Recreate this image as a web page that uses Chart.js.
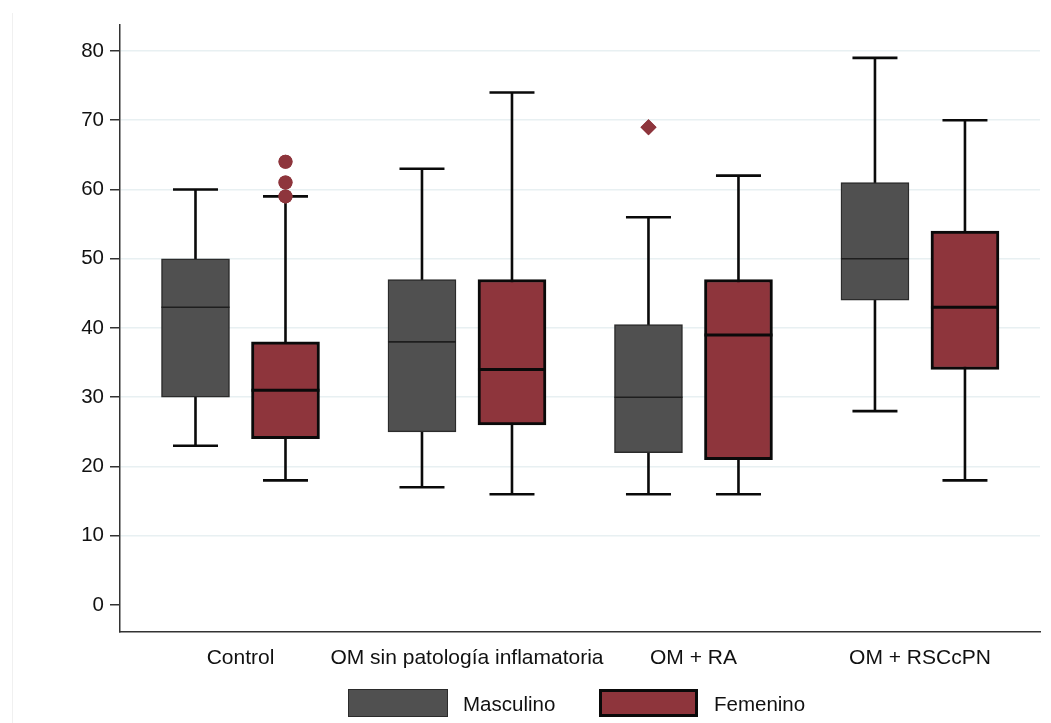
<!DOCTYPE html>
<html lang="es">
<head>
<meta charset="utf-8">
<title>Edad por grupo y sexo</title>
<script src="https://cdn.jsdelivr.net/npm/chart.js@4.4.1/dist/chart.umd.min.js"></script>
<style>
  html, body { margin: 0; padding: 0; background: #ffffff; }
  #wrap { position: relative; width: 1051px; height: 723px; overflow: hidden; }
  #edge { position: absolute; left: 12px; top: 13px; width: 1px; height: 710px; background: #f0f0f0; }
  canvas { position: absolute; left: 0; top: 0; }
  .key { position: absolute; top: 689px; height: 28px; box-sizing: border-box; }
  .key-label { position: absolute; top: 689px; height: 28px; line-height: 30px;
               font-family: "Liberation Sans", Arial, sans-serif; font-size: 20.5px; color: #111; }
</style>
</head>
<body>
<div id="wrap">
  <div id="edge"></div>
  <canvas id="chart" width="1051" height="723"></canvas>
  <div class="key" style="left:348px; width:100px; background:#505050; border:1.5px solid #2b2b2b;"></div>
  <div class="key-label" style="left:463px;">Masculino</div>
  <div class="key" style="left:599px; width:99px; background:#8e353c; border:3px solid #0a0a0a;"></div>
  <div class="key-label" style="left:714px;">Femenino</div>
</div>
<script>
// Groups on the horizontal axis
const categories = ['Control', 'OM sin patología inflamatoria', 'OM + RA', 'OM + RSCcPN'];

// Masculino: five-number summaries per group
const mascMin = [23, 17, 16, 28];
const mascQ1  = [30, 25, 22, 44];
const mascMed = [43, 38, 30, 50];
const mascQ3  = [50, 47, 40.5, 61];
const mascMax = [60, 63, 56, 79];

// Femenino: five-number summaries per group
const femMin = [18, 16, 16, 18];
const femQ1  = [24, 26, 21, 34];
const femMed = [31, 34, 39, 43];
const femQ3  = [38, 47, 47, 54];
const femMax = [59, 74, 62, 70];

// Outlying observations
const controlFemOutliers = [64, 61, 59];   // Control, Femenino (circles)
const raMascOutliers = [69];               // OM + RA, Masculino position (diamond)

// Y axis tick values
const yTicks = [0, 10, 20, 30, 40, 50, 60, 70, 80];

const MASC_FILL = '#505050';
const FEM_FILL = '#8e353c';
const FONT = '"Liberation Sans", Arial, sans-serif';

const series = [
  { min: mascMin, med: mascMed, max: mascMax, medWidth: 1.6, medColor: '#1e1e1e' },
  { min: femMin,  med: femMed,  max: femMax,  medWidth: 3,   medColor: '#0a0a0a' }
];

// Whiskers behind the boxes, medians and outliers on top
const boxPlotParts = {
  id: 'boxPlotParts',
  beforeDatasetsDraw(chart) {
    const ctx = chart.ctx;
    const y = chart.scales.y;
    ctx.save();
    ctx.strokeStyle = '#0a0a0a';
    ctx.lineWidth = 2.6;
    ctx.lineCap = 'butt';
    series.forEach((s, di) => {
      const meta = chart.getDatasetMeta(di);
      meta.data.forEach((bar, i) => {
        const x = bar.x;
        const yMin = y.getPixelForValue(s.min[i]);
        const yMax = y.getPixelForValue(s.max[i]);
        ctx.beginPath();
        ctx.moveTo(x, yMin); ctx.lineTo(x, yMax);
        ctx.moveTo(x - 22.5, yMin); ctx.lineTo(x + 22.5, yMin);
        ctx.moveTo(x - 22.5, yMax); ctx.lineTo(x + 22.5, yMax);
        ctx.stroke();
      });
    });
    ctx.restore();
  },
  afterDatasetsDraw(chart) {
    const ctx = chart.ctx;
    const y = chart.scales.y;
    ctx.save();
    series.forEach((s, di) => {
      const meta = chart.getDatasetMeta(di);
      meta.data.forEach((bar, i) => {
        const half = bar.width / 2;
        const ym = y.getPixelForValue(s.med[i]);
        ctx.strokeStyle = s.medColor;
        ctx.lineWidth = s.medWidth;
        ctx.beginPath();
        ctx.moveTo(bar.x - half, ym); ctx.lineTo(bar.x + half, ym);
        ctx.stroke();
      });
    });
    ctx.fillStyle = FEM_FILL;
    ctx.strokeStyle = FEM_FILL;
    const femBar = chart.getDatasetMeta(1).data[0];
    controlFemOutliers.forEach(v => {
      Chart.helpers.drawPoint(ctx, { pointStyle: 'circle', radius: 7, rotation: 0, borderWidth: 0 },
        femBar.x, y.getPixelForValue(v));
      ctx.fill();
    });
    const mascBar = chart.getDatasetMeta(0).data[2];
    raMascOutliers.forEach(v => {
      Chart.helpers.drawPoint(ctx, { pointStyle: 'rectRot', radius: 8, rotation: 0, borderWidth: 0 },
        mascBar.x, y.getPixelForValue(v));
      ctx.fill();
    });
    ctx.restore();
  }
};

new Chart(document.getElementById('chart'), {
  type: 'bar',
  data: {
    datasets: [
      {
        label: 'Masculino',
        data: categories.map((c, i) => ({ x: i + 1, y: [mascQ1[i], mascQ3[i]] })),
        backgroundColor: MASC_FILL,
        borderColor: '#2b2b2b',
        borderWidth: 1.5,
        borderSkipped: false,
        barThickness: 90,
        maxBarThickness: 68
      },
      {
        label: 'Femenino',
        data: categories.map((c, i) => ({ x: i + 1, y: [femQ1[i], femQ3[i]] })),
        backgroundColor: FEM_FILL,
        borderColor: '#0a0a0a',
        borderWidth: 3,
        borderSkipped: false,
        barThickness: 90,
        maxBarThickness: 68
      }
    ]
  },
  options: {
    responsive: false,
    animation: false,
    devicePixelRatio: 1,
    layout: { padding: { left: 0, right: 11, top: 25, bottom: 0 } },
    plugins: { legend: { display: false }, tooltip: { enabled: false } },
    scales: {
      x: {
        type: 'linear',
        offset: false,
        min: 0.468,
        max: 4.53,
        afterBuildTicks: s => { s.ticks = categories.map((c, i) => ({ value: i + 1 })); },
        afterFit: s => { s.height = 91; },
        grid: { display: false, drawTicks: false },
        border: { display: true, color: '#333333', width: 1.5 },
        ticks: {
          autoSkip: false,
          maxRotation: 0,
          padding: 14,
          color: '#111111',
          font: { family: FONT, size: 21 },
          callback: v => categories[Math.round(v) - 1]
        }
      },
      y: {
        type: 'linear',
        min: -3.9,
        max: 83.75,
        afterBuildTicks: s => { s.ticks = yTicks.map(v => ({ value: v })); },
        afterFit: s => { s.width = 120; },
        grid: {
          color: c => (c.tick && c.tick.value === 0) ? 'rgba(0,0,0,0)' : '#e8f0f2',
          lineWidth: 1.5,
          tickColor: '#333333',
          tickLength: 10
        },
        border: { display: true, color: '#333333', width: 1.5 },
        ticks: {
          padding: 6,
          color: '#111111',
          font: { family: FONT, size: 20.5 }
        }
      }
    }
  },
  plugins: [boxPlotParts]
});
</script>
</body>
</html>
